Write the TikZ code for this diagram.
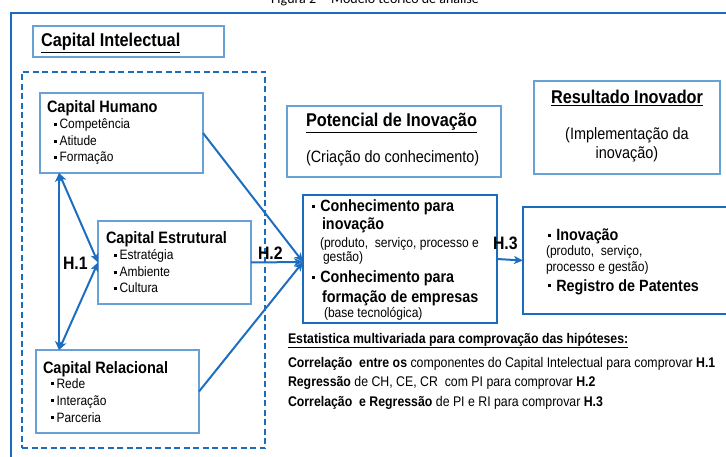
\documentclass[tikz,border=0pt]{standalone}
\usepackage{fontspec}
\setmainfont{Liberation Sans}
\newfontfamily\nar{Liberation Sans}[FakeStretch=0.88]
\newfontfamily\calib{Carlito}
\usetikzlibrary{arrows.meta}
\definecolor{frameblue}{RGB}{28,108,188}
\definecolor{lightb}{RGB}{105,160,215}
\definecolor{arrowblue}{RGB}{30,110,192}
\newcommand\fsz[1]{\fontsize{#1}{#1}\selectfont}
\newcommand\bsq{\rule[0.22em]{3.3pt}{3.3pt}}
\begin{document}
\begin{tikzpicture}[x=1pt,y=-1pt,
  box/.style={draw=lightb, line width=1.2pt, fill=white, anchor=north west, inner sep=0pt, outer sep=0pt},
  bbox/.style={draw=frameblue, line width=2pt, fill=white, anchor=north west, inner sep=0pt, outer sep=0pt},
  dbox/.style={draw=frameblue, line width=2pt, dash pattern=on 6pt off 3.5pt, anchor=north west, inner sep=0pt, outer sep=0pt},
  arr/.style={draw=arrowblue, line width=2pt, -{Stealth[length=9pt,width=8pt,inset=2.5pt]}},
  darr/.style={draw=arrowblue, line width=2pt, {Stealth[length=9pt,width=8pt,inset=2.5pt]}-{Stealth[length=9pt,width=8pt,inset=2.5pt]}},
  t/.style={anchor=base west, inner sep=0pt, outer sep=0pt},
  head/.style={t, font=\nar\bfseries\fsz{18.5}},
  ttl/.style={t, font=\nar\bfseries\fsz{16.5}},
  itm/.style={t, font=\nar\fsz{13.6}},
  big/.style={t, font=\nar\bfseries\fsz{16.3}},
  sml/.style={t, font=\nar\fsz{13.7}},
  hl/.style={t, font=\nar\bfseries\fsz{18}},
  st/.style={t, font=\nar\fsz{14}}]
\useasboundingbox (0,0) rectangle (726,457);
\clip (0,0) rectangle (726,457);

% caption (cut off at top, as in the source)
\node[t, anchor=base, font=\calib\fsz{14}] (fig) at (375,4) {Figura 2 -- Modelo teórico de análise};

% outer frame
\draw[frameblue, line width=2.2pt] (11,13) rectangle (760,480);

% header boxes
\node[box, minimum width=191pt, minimum height=31pt] (ci) at (33,26) {};
\node[head] (cit) at (41,47) {\underline{Capital Intelectual}};

\node[box, minimum width=214pt, minimum height=71pt] (pn) at (287,106) {};
\node[head] (pnt) at (306,127) {\underline{Potencial de Inovação}};
\node[t, font=\nar\fsz{16.4}] (pns) at (306,163) {(Criação do conhecimento)};

\node[box, minimum width=186pt, minimum height=93pt] (ri) at (534,81) {};
\node[head, anchor=base] (rit) at (627,104) {\underline{Resultado Inovador}};
\node[t, anchor=base, font=\nar\fsz{16.4}] (ris1) at (627,140) {(Implementação da};
\node[t, anchor=base, font=\nar\fsz{16.4}] (ris2) at (627,159) {inovação)};

% dashed group
\node[dbox, minimum width=243pt, minimum height=376pt] (grp) at (22,72) {};

% capital boxes
\node[box, minimum width=163pt, minimum height=80pt] (ch) at (40,93) {};
\node[ttl] (cht) at (47,113) {Capital Humano};
\node[itm] (ch1) at (54,129) {\bsq\,Competência};
\node[itm] (ch2) at (54,146) {\bsq\,Atitude};
\node[itm] (ch3) at (54,162) {\bsq\,Formação};

\node[box, minimum width=153pt, minimum height=83pt] (ce) at (98,221) {};
\node[ttl] (cet) at (106,244) {Capital Estrutural};
\node[itm] (ce1) at (114,260) {\bsq\,Estratégia};
\node[itm] (ce2) at (114,277) {\bsq\,Ambiente};
\node[itm] (ce3) at (114,293) {\bsq\,Cultura};

\node[box, minimum width=163pt, minimum height=83pt] (cr) at (36,350) {};
\node[ttl] (crt0) at (43,373) {Capital Relacional};
\node[itm] (cr1) at (51,388) {\bsq\,Rede};
\node[itm] (cr2) at (51,405) {\bsq\,Interação};
\node[itm] (cr3) at (51,422) {\bsq\,Parceria};

% potencial de inovacao content box
\node[bbox, minimum width=194pt, minimum height=128pt] (pi) at (303,195) {};
\node[big] (pi1) at (312,212) {\bsq\hspace{5pt}Conhecimento para};
\node[big] (pi2) at (322,230) {inovação};
\node[sml] (pi3) at (320,248) {(produto,\ \ serviço,\ processo e};
\node[sml] (pi4) at (323,262) {gestão)};
\node[big] (pi5) at (312,283) {\bsq\hspace{5pt}Conhecimento para};
\node[big] (pi6) at (322,302) {formação de empresas};
\node[sml] (pi7) at (324,317) {(base tecnológica)};

% resultado content box
\node[bbox, minimum width=260pt, minimum height=107pt] (ino) at (523,207) {};
\node[big] (in1) at (548,241) {\bsq\hspace{5pt}Inovação};
\node[sml] (in2) at (546,256) {(produto,\ \ serviço,};
\node[sml] (in3) at (546,272) {processo e gestão)};
\node[big] (in4) at (548,291) {\bsq\hspace{5pt}Registro de Patentes};

% connectors
\coordinate (pin) at ([yshift=-3pt]pi.west);
\draw[arr] (ch.east) -- (pin);
\draw[arr] (ce.east) -- (pin);
\draw[arr] (cr.east) -- (pin);
\draw[arr] (pi.east) -- (ino.west);

\coordinate (chb) at ([xshift=19pt]ch.south west);
\coordinate (crb) at ([xshift=23pt]cr.north west);
\draw[darr] (chb) -- (crb);
\draw[darr] (chb) -- (ce.west);
\draw[darr] (ce.west) -- (crb);

% hypothesis labels
\node[hl] (h1) at (63,270) {H.1};
\node[hl] (h2) at (258,260) {H.2};
\node[hl] (h3) at (493,250) {H.3};

% statistics
\node[t, font=\nar\bfseries\fsz{14}] (sh) at (288,343) {\underline{Estatistica multivariada para comprovação das hipóteses:}};
\node[st] (s1) at (288,367) {\textbf{Correlação\ \ entre os} componentes do Capital Intelectual para comprovar \textbf{H.1}};
\node[st] (s2) at (288,386) {\textbf{Regressão} de CH, CE, CR\ \ com PI para comprovar\ \textbf{H.2}};
\node[st] (s3) at (288,406) {\textbf{Correlação\ \ e Regressão} de PI e RI\ para comprovar \textbf{H.3}};
\end{tikzpicture}
\end{document}
